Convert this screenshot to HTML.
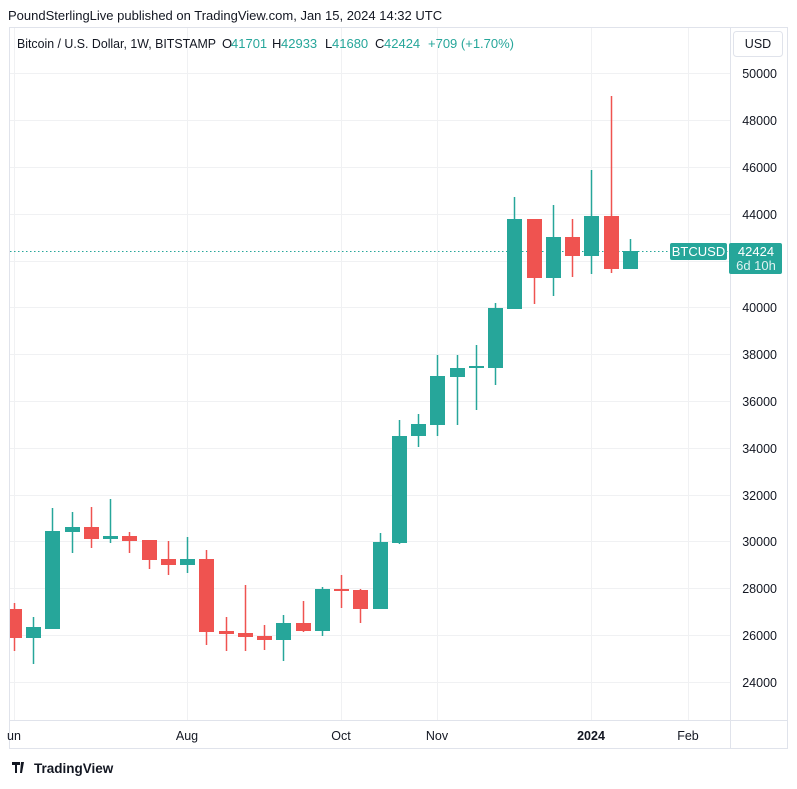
<!DOCTYPE html>
<html><head><meta charset="utf-8"><style>
body{margin:0;background:#fff;width:797px;height:784px;overflow:hidden;font-family:"Liberation Sans",sans-serif;}
</style></head><body>
<svg width="797" height="784" xmlns="http://www.w3.org/2000/svg" font-family="Liberation Sans, sans-serif">
<text x="8" y="20" font-size="13" fill="#131722">PoundSterlingLive published on TradingView.com, Jan 15, 2024 14:32 UTC</text>
<rect x="9.5" y="27.5" width="778" height="721" fill="none" stroke="#e0e3eb"/>
<line x1="730.5" y1="28" x2="730.5" y2="748" stroke="#e0e3eb"/>
<line x1="10" y1="720.5" x2="787" y2="720.5" stroke="#e0e3eb"/>
<g stroke="#f0f1f3" stroke-width="1">
<line x1="10" x2="730" y1="73.5" y2="73.5"/><line x1="10" x2="730" y1="120.5" y2="120.5"/><line x1="10" x2="730" y1="167.5" y2="167.5"/><line x1="10" x2="730" y1="214.5" y2="214.5"/><line x1="10" x2="730" y1="261.5" y2="261.5"/><line x1="10" x2="730" y1="307.5" y2="307.5"/><line x1="10" x2="730" y1="354.5" y2="354.5"/><line x1="10" x2="730" y1="401.5" y2="401.5"/><line x1="10" x2="730" y1="448.5" y2="448.5"/><line x1="10" x2="730" y1="495.5" y2="495.5"/><line x1="10" x2="730" y1="541.5" y2="541.5"/><line x1="10" x2="730" y1="588.5" y2="588.5"/><line x1="10" x2="730" y1="635.5" y2="635.5"/><line x1="10" x2="730" y1="682.5" y2="682.5"/>
<line x1="14.5" x2="14.5" y1="28" y2="720"/><line x1="187.5" x2="187.5" y1="28" y2="720"/><line x1="341.5" x2="341.5" y1="28" y2="720"/><line x1="437.5" x2="437.5" y1="28" y2="720"/><line x1="591.5" x2="591.5" y1="28" y2="720"/><line x1="688.5" x2="688.5" y1="28" y2="720"/>
</g>
<g font-size="13" fill="#131722">
<text x="17" y="48" textLength="199" lengthAdjust="spacingAndGlyphs">Bitcoin / U.S. Dollar, 1W, BITSTAMP</text>
<text x="222" y="48">O</text><text x="231" y="48" fill="#26a69a">41701</text>
<text x="272" y="48">H</text><text x="281" y="48" fill="#26a69a">42933</text>
<text x="325" y="48">L</text><text x="332" y="48" fill="#26a69a">41680</text>
<text x="375" y="48">C</text><text x="384" y="48" fill="#26a69a">42424</text>
<text x="428" y="48" fill="#26a69a">+709 (+1.70%)</text>
</g>
<rect x="733.5" y="31.5" width="49" height="25" rx="3" fill="#fff" stroke="#e0e3eb"/>
<text x="758" y="48" font-size="12.5" text-anchor="middle" fill="#131722">USD</text>
<g font-size="12.5" fill="#131722" text-anchor="end">
<text x="777" y="78">50000</text><text x="777" y="125">48000</text><text x="777" y="172">46000</text><text x="777" y="219">44000</text><text x="777" y="312">40000</text><text x="777" y="359">38000</text><text x="777" y="406">36000</text><text x="777" y="453">34000</text><text x="777" y="500">32000</text><text x="777" y="546">30000</text><text x="777" y="593">28000</text><text x="777" y="640">26000</text><text x="777" y="687">24000</text>
</g>
<g font-size="12.5" fill="#131722" text-anchor="middle">
<text x="14" y="740">un</text><text x="187" y="740">Aug</text><text x="341" y="740">Oct</text><text x="437" y="740">Nov</text><text x="591" y="740" font-weight="bold">2024</text><text x="688" y="740">Feb</text>
</g>
<line x1="10" x2="730" y1="251.5" y2="251.5" stroke="#26a69a" stroke-dasharray="1.5,2.5"/>
<rect x="670" y="243" width="57" height="17" rx="2" fill="#26a69a"/>
<text x="698.5" y="256" font-size="13" fill="#fff" text-anchor="middle">BTCUSD</text>
<rect x="729" y="243" width="53" height="31" rx="2" fill="#26a69a"/>
<text x="756" y="256" font-size="13" fill="#fff" text-anchor="middle">42424</text>
<text x="756" y="270" font-size="13" fill="#e0f2f1" text-anchor="middle">6d 10h</text>
<g fill="#131722"><path d="M12 762h8v3h-3v8h-2v-8h-3z M21 762h3l-2 11h-2z"/></g>
<text x="34" y="773" font-size="13.5" fill="#131722" font-weight="bold">TradingView</text>
<g>
<line x1="14.5" x2="14.5" y1="603" y2="651" stroke="#ef5350" stroke-width="1.5"/><rect x="10" y="609" width="12" height="29" fill="#ef5350"/>
<line x1="33.5" x2="33.5" y1="617" y2="664" stroke="#26a69a" stroke-width="1.5"/><rect x="26" y="627" width="15" height="11" fill="#26a69a"/>
<line x1="52.5" x2="52.5" y1="508" y2="629" stroke="#26a69a" stroke-width="1.5"/><rect x="45" y="531" width="15" height="98" fill="#26a69a"/>
<line x1="72.5" x2="72.5" y1="512" y2="553" stroke="#26a69a" stroke-width="1.5"/><rect x="65" y="527" width="15" height="5" fill="#26a69a"/>
<line x1="91.5" x2="91.5" y1="507" y2="548" stroke="#ef5350" stroke-width="1.5"/><rect x="84" y="527" width="15" height="12" fill="#ef5350"/>
<line x1="110.5" x2="110.5" y1="499" y2="543" stroke="#26a69a" stroke-width="1.5"/><rect x="103" y="536" width="15" height="3" fill="#26a69a"/>
<line x1="129.5" x2="129.5" y1="532" y2="553" stroke="#ef5350" stroke-width="1.5"/><rect x="122" y="536" width="15" height="5" fill="#ef5350"/>
<line x1="149.5" x2="149.5" y1="540" y2="569" stroke="#ef5350" stroke-width="1.5"/><rect x="142" y="540" width="15" height="20" fill="#ef5350"/>
<line x1="168.5" x2="168.5" y1="541" y2="575" stroke="#ef5350" stroke-width="1.5"/><rect x="161" y="559" width="15" height="6" fill="#ef5350"/>
<line x1="187.5" x2="187.5" y1="537" y2="573" stroke="#26a69a" stroke-width="1.5"/><rect x="180" y="559" width="15" height="6" fill="#26a69a"/>
<line x1="206.5" x2="206.5" y1="550" y2="645" stroke="#ef5350" stroke-width="1.5"/><rect x="199" y="559" width="15" height="73" fill="#ef5350"/>
<line x1="226.5" x2="226.5" y1="617" y2="651" stroke="#ef5350" stroke-width="1.5"/><rect x="219" y="631" width="15" height="3" fill="#ef5350"/>
<line x1="245.5" x2="245.5" y1="585" y2="651" stroke="#ef5350" stroke-width="1.5"/><rect x="238" y="633" width="15" height="4" fill="#ef5350"/>
<line x1="264.5" x2="264.5" y1="625" y2="650" stroke="#ef5350" stroke-width="1.5"/><rect x="257" y="636" width="15" height="4" fill="#ef5350"/>
<line x1="283.5" x2="283.5" y1="615" y2="661" stroke="#26a69a" stroke-width="1.5"/><rect x="276" y="623" width="15" height="17" fill="#26a69a"/>
<line x1="303.5" x2="303.5" y1="601" y2="632" stroke="#ef5350" stroke-width="1.5"/><rect x="296" y="623" width="15" height="8" fill="#ef5350"/>
<line x1="322.5" x2="322.5" y1="587" y2="636" stroke="#26a69a" stroke-width="1.5"/><rect x="315" y="589" width="15" height="42" fill="#26a69a"/>
<line x1="341.5" x2="341.5" y1="575" y2="608" stroke="#ef5350" stroke-width="1.5"/><rect x="334" y="589" width="15" height="2" fill="#ef5350"/>
<line x1="360.5" x2="360.5" y1="589" y2="623" stroke="#ef5350" stroke-width="1.5"/><rect x="353" y="590" width="15" height="19" fill="#ef5350"/>
<line x1="380.5" x2="380.5" y1="533" y2="609" stroke="#26a69a" stroke-width="1.5"/><rect x="373" y="542" width="15" height="67" fill="#26a69a"/>
<line x1="399.5" x2="399.5" y1="420" y2="544" stroke="#26a69a" stroke-width="1.5"/><rect x="392" y="436" width="15" height="107" fill="#26a69a"/>
<line x1="418.5" x2="418.5" y1="414" y2="447" stroke="#26a69a" stroke-width="1.5"/><rect x="411" y="424" width="15" height="12" fill="#26a69a"/>
<line x1="437.5" x2="437.5" y1="355" y2="436" stroke="#26a69a" stroke-width="1.5"/><rect x="430" y="376" width="15" height="49" fill="#26a69a"/>
<line x1="457.5" x2="457.5" y1="355" y2="425" stroke="#26a69a" stroke-width="1.5"/><rect x="450" y="368" width="15" height="9" fill="#26a69a"/>
<line x1="476.5" x2="476.5" y1="345" y2="410" stroke="#26a69a" stroke-width="1.5"/><rect x="469" y="366" width="15" height="2" fill="#26a69a"/>
<line x1="495.5" x2="495.5" y1="303" y2="385" stroke="#26a69a" stroke-width="1.5"/><rect x="488" y="308" width="15" height="60" fill="#26a69a"/>
<line x1="514.5" x2="514.5" y1="197" y2="309" stroke="#26a69a" stroke-width="1.5"/><rect x="507" y="219" width="15" height="90" fill="#26a69a"/>
<line x1="534.5" x2="534.5" y1="219" y2="304" stroke="#ef5350" stroke-width="1.5"/><rect x="527" y="219" width="15" height="59" fill="#ef5350"/>
<line x1="553.5" x2="553.5" y1="205" y2="296" stroke="#26a69a" stroke-width="1.5"/><rect x="546" y="237" width="15" height="41" fill="#26a69a"/>
<line x1="572.5" x2="572.5" y1="219" y2="277" stroke="#ef5350" stroke-width="1.5"/><rect x="565" y="237" width="15" height="19" fill="#ef5350"/>
<line x1="591.5" x2="591.5" y1="170" y2="274" stroke="#26a69a" stroke-width="1.5"/><rect x="584" y="216" width="15" height="40" fill="#26a69a"/>
<line x1="611.5" x2="611.5" y1="96" y2="273" stroke="#ef5350" stroke-width="1.5"/><rect x="604" y="216" width="15" height="53" fill="#ef5350"/>
<line x1="630.5" x2="630.5" y1="239" y2="251" stroke="#26a69a" stroke-width="1.5"/><rect x="623" y="251" width="15" height="18" fill="#26a69a"/>
</g>
</svg>
</body></html>
